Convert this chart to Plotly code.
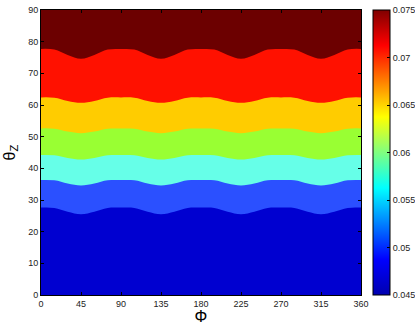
import plotly.graph_objects as go

# azimuth samples (deg)
phi = [0, 15, 30, 45, 60, 75, 90, 105, 120, 135, 150, 165, 180,
       195, 210, 225, 240, 255, 270, 285, 300, 315, 330, 345, 360]

# theta_Z of each contour boundary (bottom to top)
b1 = [27.6, 27.5, 26.3, 25.5, 26.3, 27.5, 27.6, 27.5, 26.3, 25.5, 26.3, 27.5, 27.6,
      27.5, 26.3, 25.5, 26.3, 27.5, 27.6, 27.5, 26.3, 25.5, 26.3, 27.5, 27.6]
b2 = [36.3, 36.2, 35.2, 34.6, 35.2, 36.2, 36.3, 36.2, 35.2, 34.6, 35.2, 36.2, 36.3,
      36.2, 35.2, 34.6, 35.2, 36.2, 36.3, 36.2, 35.2, 34.6, 35.2, 36.2, 36.3]
b3 = [44.2, 44.1, 43.3, 42.8, 43.3, 44.1, 44.2, 44.1, 43.3, 42.8, 43.3, 44.1, 44.2,
      44.1, 43.3, 42.8, 43.3, 44.1, 44.2, 44.1, 43.3, 42.8, 43.3, 44.1, 44.2]
b4 = [52.6, 52.5, 51.6, 51.1, 51.6, 52.5, 52.6, 52.5, 51.6, 51.1, 51.6, 52.5, 52.6,
      52.5, 51.6, 51.1, 51.6, 52.5, 52.6, 52.5, 51.6, 51.1, 51.6, 52.5, 52.6]
b5 = [62.4, 62.3, 61.3, 60.7, 61.3, 62.3, 62.4, 62.3, 61.3, 60.7, 61.3, 62.3, 62.4,
      62.3, 61.3, 60.7, 61.3, 62.3, 62.4, 62.3, 61.3, 60.7, 61.3, 62.3, 62.4]
b6 = [77.7, 77.5, 75.8, 74.6, 75.8, 77.5, 77.7, 77.5, 75.8, 74.6, 75.8, 77.5, 77.7,
      77.5, 75.8, 74.6, 75.8, 77.5, 77.7, 77.5, 75.8, 74.6, 75.8, 77.5, 77.7]

band_colors = ["#0000d0", "#2b50ff", "#66ffe8", "#99ff33", "#ffcc00", "#ff1100"]
top_color = "#6c0000"

cb_ticks = [0.045, 0.05, 0.055, 0.06, 0.065, 0.07, 0.075]

jet = [[0.0, "rgb(0,0,175)"], [0.125, "rgb(0,0,255)"], [0.375, "rgb(0,255,255)"],
       [0.625, "rgb(255,255,0)"], [0.875, "rgb(255,0,0)"], [1.0, "rgb(128,0,0)"]]

fig = go.Figure()
# draw top band first, each filled down to zero, so later bands cover earlier ones
bounds = [b1, b2, b3, b4, b5, b6]
for i in reversed(range(len(bounds))):
    fig.add_trace(go.Scatter(
        x=phi, y=bounds[i], mode="lines",
        line=dict(width=0, shape="spline", smoothing=1.0),
        fill="tozeroy", fillcolor=band_colors[i],
        showlegend=False, hoverinfo="skip",
    ))

# colorbar only
fig.add_trace(go.Scatter(
    x=[None], y=[None], mode="markers", showlegend=False,
    marker=dict(color=[0.045], colorscale=jet, cmin=0.045, cmax=0.075, showscale=True,
                colorbar=dict(
                    x=1.0375, xanchor="left", xpad=0, y=0.5, len=1, ypad=0,
                    thickness=17, outlinecolor="black", outlinewidth=1,
                    tickvals=cb_ticks, ticktext=[f"{v:g}" for v in cb_ticks],
                    ticks="inside", ticklen=3, tickcolor="black",
                    tickfont=dict(size=9, color="#222"),
                )),
))

axis_common = dict(
    showgrid=False, zeroline=False, showline=True, linecolor="black", linewidth=1,
    mirror="ticks", ticks="inside", ticklen=3, tickcolor="black",
    tickfont=dict(size=9, color="#222"),
)
fig.update_xaxes(range=[0, 360], tickvals=list(range(0, 361, 45)),
                 title=dict(text="Φ", font=dict(size=16, color="black"), standoff=0),
                 automargin=False, **axis_common)
fig.update_yaxes(range=[0, 90], tickvals=list(range(0, 91, 10)),
                 title=dict(text="θ<sub>Z</sub>", font=dict(size=16, color="black"), standoff=8),
                 automargin=False, **axis_common)
fig.update_layout(
    width=415, height=325,
    margin=dict(l=41, r=54, t=10, b=30, autoexpand=False),
    paper_bgcolor="white", plot_bgcolor=top_color,
    font=dict(family="Liberation Sans, Arial, sans-serif"),
)
fig.write_html("out.html", config={"displayModeBar": False},
               post_script="document.body.style.margin='0';")
